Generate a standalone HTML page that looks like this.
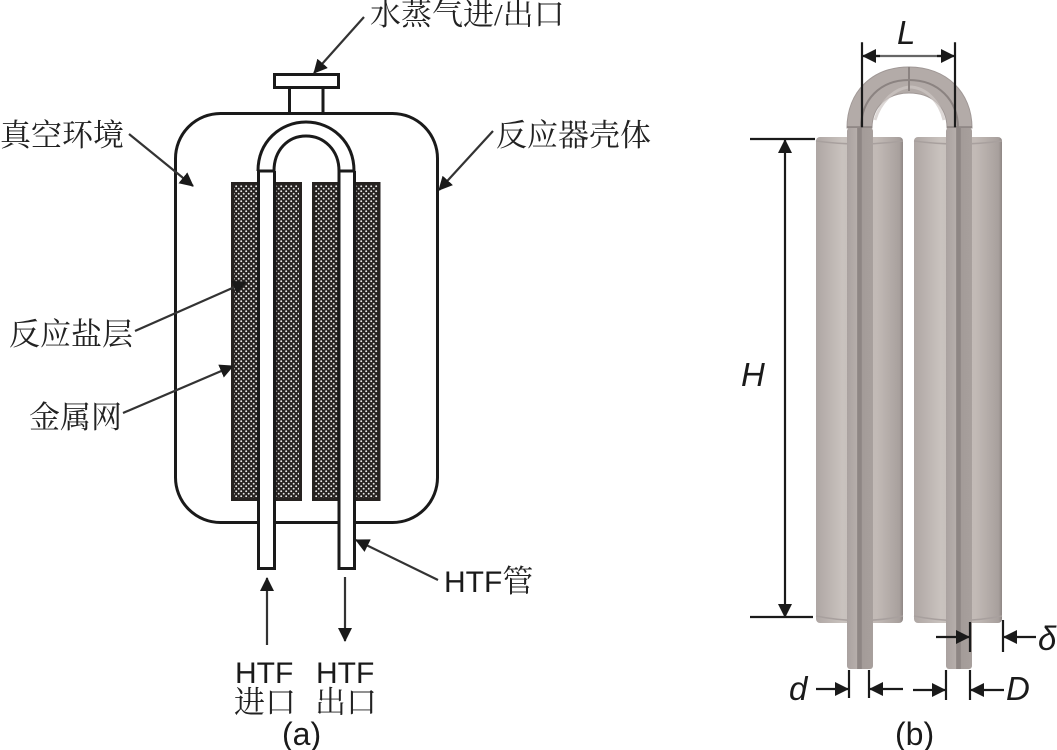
<!DOCTYPE html>
<html><head><meta charset="utf-8"><style>
html,body{margin:0;padding:0;background:#fff}
svg{display:block}
.c{font-family:"Liberation Serif","Noto Serif CJK SC",serif;font-size:31px;fill:#222}
.s{font-family:"Liberation Sans","Noto Sans CJK SC",sans-serif;font-size:30px;fill:#1a1a1a}
.i{font-family:"Liberation Sans",sans-serif;font-size:33px;font-style:italic;fill:#1a1a1a}
</style></head><body>
<svg width="1057" height="750" viewBox="0 0 1057 750" xmlns="http://www.w3.org/2000/svg">
<defs>
<pattern id="mesh" width="5" height="5" patternUnits="userSpaceOnUse">
<rect width="5" height="5" fill="#262220"/>
<circle cx="1.2" cy="1.2" r="0.95" fill="#e8e8e8"/>
<circle cx="3.7" cy="3.7" r="0.95" fill="#e8e8e8"/>
</pattern>
<linearGradient id="cyl" x1="0" x2="1" y1="0" y2="0">
<stop offset="0" stop-color="#aea6a3"/><stop offset=".3" stop-color="#c9c2be"/><stop offset=".7" stop-color="#c2bab6"/><stop offset=".96" stop-color="#a8a09d"/><stop offset="1" stop-color="#8f8785"/>
</linearGradient>
<linearGradient id="tube" x1="0" x2="1" y1="0" y2="0">
<stop offset="0" stop-color="#aaa2a0"/><stop offset=".38" stop-color="#b6aeab"/><stop offset=".4" stop-color="#8e8684"/><stop offset=".56" stop-color="#8e8684"/><stop offset=".58" stop-color="#a39b98"/><stop offset="1" stop-color="#a8a09d"/>
</linearGradient>
<marker id="a" viewBox="0 0 14 14" refX="13" refY="7" markerWidth="14" markerHeight="14" markerUnits="userSpaceOnUse" orient="auto">
<path d="M0 0L14 7L0 14z" fill="#1a1a1a"/>
</marker>
</defs>

<!-- (a) shell -->
<rect x="175.500" y="113.500" width="262" height="409" rx="45" fill="#fff" stroke="#1a1a1a" stroke-width="3"/>
<path d="M289.500 86V113M323 86V113" stroke="#1a1a1a" stroke-width="3" fill="none"/>
<rect x="274.500" y="74.500" width="64" height="13" fill="#fff" stroke="#1a1a1a" stroke-width="3"/>

<!-- mesh -->
<g stroke="#262220" stroke-width="3" fill="url(#mesh)">
<rect x="232.500" y="183.500" width="26" height="316"/>
<rect x="275" y="183.500" width="25.500" height="316"/>
<rect x="313.500" y="183.500" width="26" height="316"/>
<rect x="355" y="183.500" width="24" height="316"/>
</g>

<!-- U tube -->
<path d="M258.500 171V568.500H274.500V171M339 171V568.500H354.500V171" fill="#fff" stroke="#1a1a1a" stroke-width="3"/>
<path d="M258 171C258 142 280 122 306 122C332 122 354 142 354 171" fill="none" stroke="#1a1a1a" stroke-width="3"/>
<path d="M274 171C274 150 288 136 306 136C324 136 339 150 339 171" fill="none" stroke="#1a1a1a" stroke-width="3"/>
<path d="M258 171H274M339 171H354" stroke="#1a1a1a" stroke-width="3"/>

<!-- (a) leaders -->
<g stroke="#333" stroke-width="2.200" fill="none">
<line x1="364" y1="17" x2="314" y2="73" marker-end="url(#a)"/>
<line x1="129" y1="134" x2="193" y2="186" marker-end="url(#a)"/>
<line x1="493" y1="131" x2="439" y2="190" marker-end="url(#a)"/>
<line x1="135" y1="331" x2="246" y2="282" marker-end="url(#a)"/>
<line x1="123" y1="413" x2="233" y2="366" marker-end="url(#a)"/>
<line x1="438" y1="580" x2="356" y2="540" marker-end="url(#a)"/>
<line x1="267" y1="645" x2="267" y2="578" marker-end="url(#a)"/>
<line x1="345" y1="577" x2="345" y2="641" marker-end="url(#a)"/>
</g>

<!-- (a) text -->
<text class="c" x="370" y="25">水蒸气进/出口</text>
<text class="c" x="0" y="146">真空环境</text>
<text class="c" x="496" y="146">反应器壳体</text>
<text class="c" x="9" y="345">反应盐层</text>
<text class="c" x="29" y="428">金属网</text>
<text class="s" x="444" y="592">HTF<tspan class="c" style="font-size:31px">管</tspan></text>
<text class="s" x="235" y="683">HTF</text>
<text class="s" x="316" y="683">HTF</text>
<text class="c" x="234" y="713">进口</text>
<text class="c" x="315" y="713">出口</text>
<text class="s" x="282" y="745" style="font-size:32px">(a)</text>

<!-- (b) U bend -->
<path d="M847 128C847 92 872 67 909 67C946 67 972 92 972 128H947C947 106 931 93 909 93C888 93 872 106 872 128Z" fill="#b3aba8" stroke="#a09896" stroke-width="1"/>
<path d="M861 128C861 100 880 80 909 80C938 80 958 100 958 128" fill="none" stroke="#8b8381" stroke-width="2"/>
<path d="M875 120C880 103 893 89 909 87C927 87 940 103 944 120" fill="none" stroke="#cfc8c4" stroke-width="3" opacity=".7"/>
<path d="M909 67V91" stroke="#8b8381" stroke-width="2"/>
<path d="M847 127H872M947 127H972" stroke="#8b8381" stroke-width="1.500"/>

<!-- (b) cylinders -->
<rect x="816" y="137" width="87" height="486" rx="4" fill="url(#cyl)"/>
<rect x="914" y="137" width="88" height="486" rx="4" fill="url(#cyl)"/>
<path d="M816 141Q860 147 903 141M914 141Q958 147 1002 141" stroke="#a8a09e" stroke-width="1.500" fill="none"/>
<path d="M816 616Q860 625 903 616M914 616Q958 625 1002 616" stroke="#a8a09e" stroke-width="1.500" fill="none"/>
<rect x="847" y="128" width="26" height="541" rx="3" fill="url(#tube)"/>
<rect x="946" y="128" width="26" height="541" rx="3" fill="url(#tube)"/>

<!-- (b) dimensions -->
<g stroke="#1a1a1a" stroke-width="2.200" fill="none">
<path d="M862 33V128M955 33V128" transform="translate(0,10) scale(1,0.895) translate(0,3)"/>
<path d="M864 56H953" stroke="#666"/>
<line x1="880" y1="56" x2="863" y2="56" marker-end="url(#a)"/>
<line x1="937" y1="56" x2="954" y2="56" marker-end="url(#a)"/>
<path d="M750 139H815M750 617H813"/>
<line x1="785" y1="380" x2="785" y2="140" marker-end="url(#a)"/>
<line x1="785" y1="380" x2="785" y2="617" marker-end="url(#a)"/>
<path d="M849 670V698M869 670V698M946 670V700M970 670V700M970 622V652M1003 620V652"/>
<line x1="816" y1="689" x2="848" y2="689" marker-end="url(#a)"/>
<line x1="903" y1="689" x2="870" y2="689" marker-end="url(#a)"/>
<line x1="913" y1="690" x2="945" y2="690" marker-end="url(#a)"/>
<line x1="1004" y1="690" x2="971" y2="690" marker-end="url(#a)"/>
<line x1="936" y1="637" x2="969" y2="637" marker-end="url(#a)"/>
<line x1="1036" y1="637" x2="1004" y2="637" marker-end="url(#a)"/>
</g>

<text class="i" x="897" y="44">L</text>
<text class="i" x="741" y="386">H</text>
<text class="i" x="789" y="700">d</text>
<text class="i" x="1006" y="700">D</text>
<text class="i" x="1038" y="650">δ</text>
<text class="s" x="895" y="745" style="font-size:32px">(b)</text>
</svg>
</body></html>
